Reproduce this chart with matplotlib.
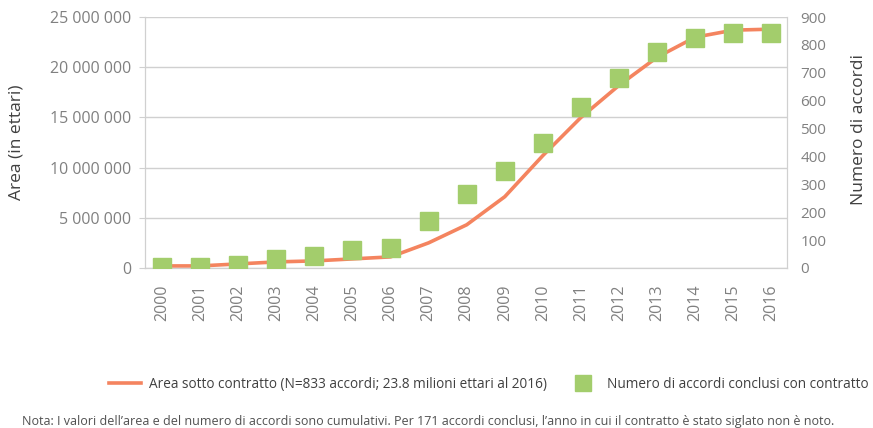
import matplotlib
matplotlib.use('Agg')
import matplotlib.pyplot as plt
from matplotlib.lines import Line2D
from matplotlib.ticker import FuncFormatter

plt.rcParams['font.family'] = ['Open Sans', 'DejaVu Sans']

years = [str(y) for y in range(2000, 2017)]
area_ha = [0.2e6, 0.2e6, 0.4e6, 0.6e6, 0.7e6, 0.9e6, 1.1e6, 2.5e6, 4.3e6,
           7.1e6, 11.2e6, 15.0e6, 18.2e6, 21.0e6, 23.0e6, 23.7e6, 23.8e6]
n_accordi = [3, 5, 11, 32, 43, 65, 72, 168, 265, 348, 448, 577, 681, 775,
             824, 843, 842]

line_label = 'Area sotto contratto (N=833 accordi; 23.8 milioni ettari al 2016)'
sq_label = 'Numero di accordi conclusi con contratto'
note = ('Nota: I valori dell\u2019area e del numero di accordi sono cumulativi. '
        'Per 171 accordi conclusi, l\u2019anno in cui il contratto \u00e8 stato '
        'siglato non \u00e8 noto.')

line_color = '#F4845F'
sq_color = '#A3CD6C'
tick_color = '#808080'
label_color = '#404040'
grid_color = '#D0D0D0'

fig = plt.figure(figsize=(8.73, 4.28), dpi=100)
ax = fig.add_axes([0.166, 0.374, 0.735, 0.586])
ax2 = ax.twinx()

x = list(range(len(years)))
ax.plot(x, area_ha, color=line_color, lw=2.6, zorder=3, solid_capstyle='round')
ax2.plot(x, n_accordi, ls='none', marker='s', ms=12.5, color=sq_color,
         zorder=4)

ax.set_xlim(-0.45, 16.4)
ax.set_ylim(0, 25e6)
ax.set_yticks(range(0, 25000001, 5000000))
ax.yaxis.set_major_formatter(FuncFormatter(lambda v, p: f'{int(v):,}'.replace(',', ' ')))
ax2.set_ylim(0, 900)
ax2.set_yticks(range(0, 901, 100))

ax.set_xticks(x)
ax.set_xticklabels(years, rotation=90)
ax.yaxis.grid(True, color=grid_color, lw=1)
ax.set_axisbelow(True)

for a in (ax, ax2):
    for s in a.spines.values():
        s.set_color(grid_color)
    a.spines['top'].set_visible(False)
ax.tick_params(axis='y', colors=tick_color, labelsize=11.5, length=4,
               color=grid_color, pad=6)
ax.tick_params(axis='x', colors=tick_color, labelsize=11.5, length=0, pad=12)
ax2.tick_params(axis='y', colors=tick_color, labelsize=11, length=0, pad=10)

ax.set_ylabel('Area (in ettari)', color=label_color, fontsize=12.5, labelpad=18)
ax2.set_ylabel('Numero di accordi', color=label_color, fontsize=12.5,
               labelpad=18)
ax2.yaxis.set_label_coords(1.1, 0.55)

ax2.set_zorder(ax.get_zorder() + 1)
ax2.patch.set_visible(False)

handles = [Line2D([], [], color=line_color, lw=2.6),
           Line2D([], [], ls='none', marker='s', ms=11, color=sq_color)]
fig.legend(handles, [line_label, sq_label], loc='center', ncol=2,
           bbox_to_anchor=(0.56, 0.102), frameon=False, fontsize=9.8,
           labelcolor=label_color, handlelength=2.3, columnspacing=1.5,
           handletextpad=0.6)

fig.text(0.025, 0.016, note, fontsize=9.0, color='#505050', ha='left',
         va='center')

fig.savefig('out.png', dpi=100, facecolor='white')
